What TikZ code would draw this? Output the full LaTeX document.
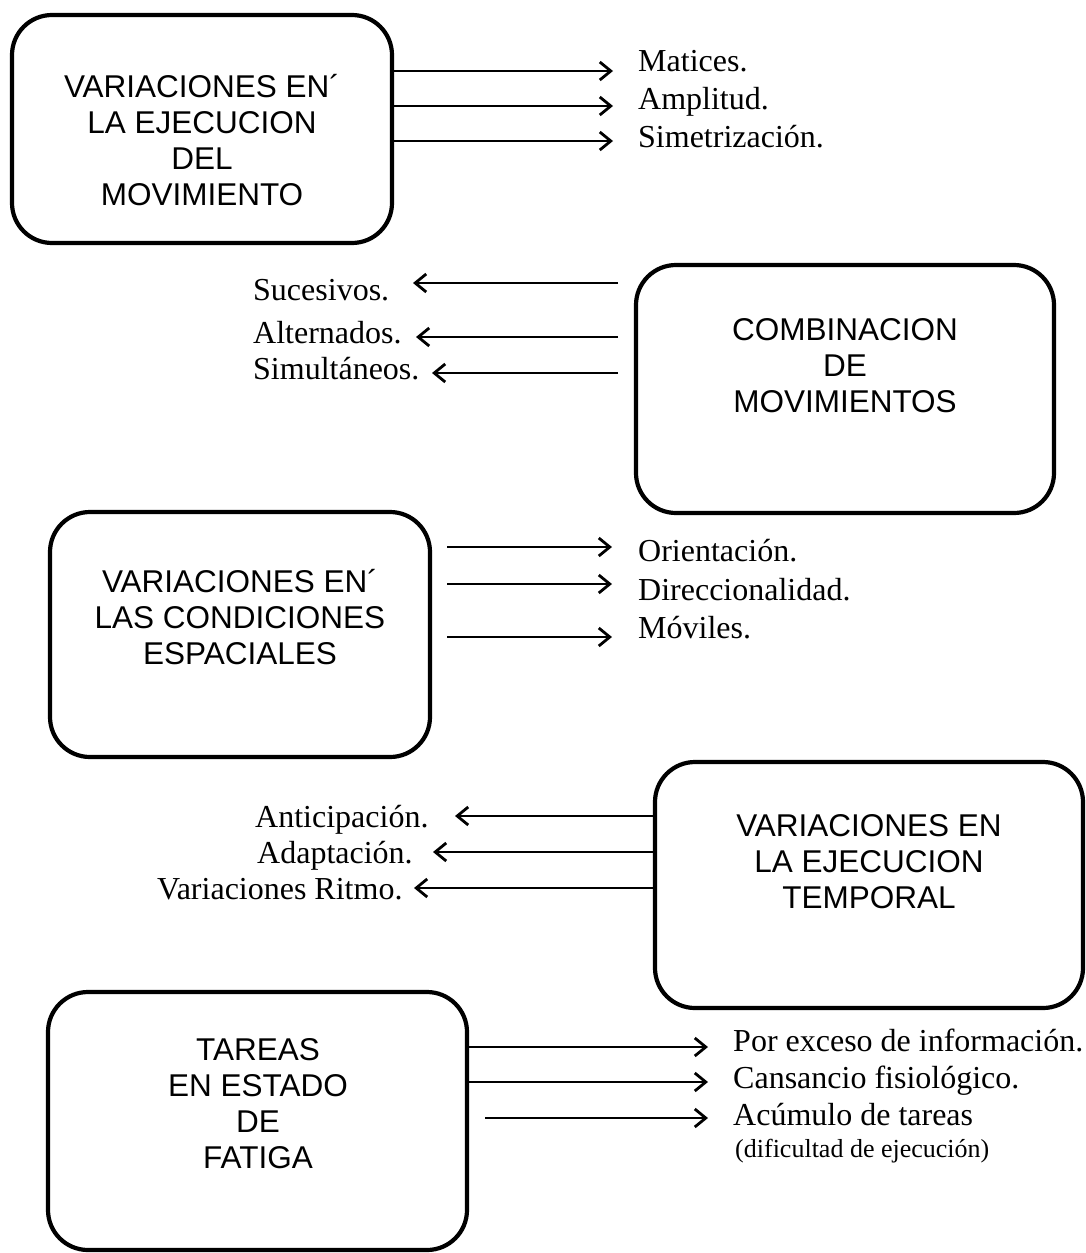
\documentclass[tikz,border=0pt]{standalone}
\usepackage{fontspec}
\setmainfont{Liberation Serif}
\newfontfamily\boxfont{Liberation Sans}
\usetikzlibrary{arrows.meta}
\begin{document}
\begin{tikzpicture}[x=1pt,y=-1pt,
  cbox/.style={draw,line width=4.2pt,rounded corners=40pt,inner sep=0pt,outer sep=0pt},
  ctext/.style={anchor=north,inner sep=0pt,align=center,font=\boxfont\fontsize{31.5}{36}\selectfont},
  lbl/.style={anchor=base west,inner sep=0pt,font=\fontsize{32}{36}\selectfont},
  arr/.style={line width=2.4pt,-{Straight Barb[length=11pt,width=18pt,line width=2.8pt]}}
]
\useasboundingbox (0,0) rectangle (1085,1253);

% boxes
\node[cbox,minimum width=380pt,minimum height=228pt] (b1) at (202,129) {};
\node[cbox,minimum width=418pt,minimum height=248pt] (b2) at (845,389) {};
\node[cbox,minimum width=380pt,minimum height=245pt] (b3) at (240,634.5) {};
\node[cbox,minimum width=428pt,minimum height=246pt] (b4) at (869,885) {};
\node[cbox,minimum width=419pt,minimum height=258pt] (b5) at (257.5,1121) {};

% box texts
\node[ctext] (t1) at (202,74) {VARIACIONES EN´\\LA EJECUCION\\DEL\\MOVIMIENTO};
\node[ctext] (t2) at (845,318) {COMBINACION\\DE\\MOVIMIENTOS};
\node[ctext] (t3) at (240,569) {VARIACIONES EN´\\LAS CONDICIONES\\ESPACIALES};
\node[ctext] (t4) at (869,814) {VARIACIONES EN\\LA EJECUCION\\TEMPORAL};
\node[ctext] (t5) at (258,1038) {TAREAS\\EN ESTADO\\DE\\FATIGA};

% labels
\node[lbl] (l11) at (638,71) {Matices.};
\node[lbl] (l12) at (638,109) {Amplitud.};
\node[lbl] (l13) at (638,147) {Simetrización.};

\node[lbl] (l21) at (253,300) {Sucesivos.};
\node[lbl] (l22) at (253,343) {Alternados.};
\node[lbl] (l23) at (253,379) {Simultáneos.};

\node[lbl] (l31) at (638,561) {Orientación.};
\node[lbl] (l32) at (638,600) {Direccionalidad.};
\node[lbl] (l33) at (638,638) {Móviles.};

\node[lbl] (l41) at (255,827) {Anticipación.};
\node[lbl] (l42) at (257,863) {Adaptación.};
\node[lbl] (l43) at (157,899) {Variaciones Ritmo.};

\node[lbl] (l51) at (733,1051) {Por exceso de información.};
\node[lbl] (l52) at (733,1088) {Cansancio fisiológico.};
\node[lbl] (l53) at (733,1125) {Acúmulo de tareas};
\node[lbl,font=\fontsize{26}{30}\selectfont] (l54) at (735,1157) {(dificultad de ejecución)};

% arrow end coordinates
\coordinate (a11) at (613,71);
\coordinate (a12) at (613,106);
\coordinate (a13) at (613,141);
\coordinate (s21) at (618,283);  \coordinate (a21) at (413,283);
\coordinate (s22) at (618,337);  \coordinate (a22) at (416,337);
\coordinate (s23) at (618,373);  \coordinate (a23) at (432,373);
\coordinate (s31) at (447,547);  \coordinate (a31) at (612,547);
\coordinate (s32) at (447,584);  \coordinate (a32) at (612,584);
\coordinate (s33) at (447,637);  \coordinate (a33) at (612,637);
\coordinate (a41) at (455,816);
\coordinate (a42) at (433,852);
\coordinate (a43) at (414,888);
\coordinate (a51) at (708,1047);
\coordinate (a52) at (708,1082);
\coordinate (s53) at (485,1118); \coordinate (a53) at (708,1118);

% arrows
\draw[arr] (b1.east |- a11) -- (a11);
\draw[arr] (b1.east |- a12) -- (a12);
\draw[arr] (b1.east |- a13) -- (a13);
\draw[arr] (s21) -- (a21);
\draw[arr] (s22) -- (a22);
\draw[arr] (s23) -- (a23);
\draw[arr] (s31) -- (a31);
\draw[arr] (s32) -- (a32);
\draw[arr] (s33) -- (a33);
\draw[arr] (b4.west |- a41) -- (a41);
\draw[arr] (b4.west |- a42) -- (a42);
\draw[arr] (b4.west |- a43) -- (a43);
\draw[arr] (b5.east |- a51) -- (a51);
\draw[arr] (b5.east |- a52) -- (a52);
\draw[arr] (s53) -- (a53);
\end{tikzpicture}
\end{document}
